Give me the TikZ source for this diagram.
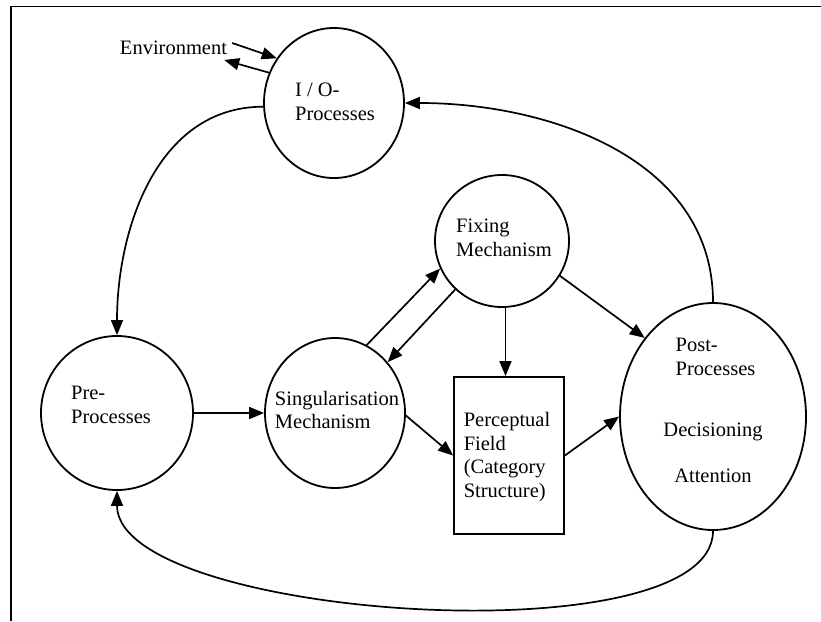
\documentclass[tikz,border=0pt]{standalone}
\usepackage{fontspec}
\setmainfont{Liberation Serif}
\usetikzlibrary{arrows.meta,shapes.geometric}

\begin{document}
\begin{tikzpicture}[x=1pt,y=-1pt,
    proc/.style={draw,ellipse,line width=1.8pt,inner sep=0pt},
    lbl/.style={font=\fontsize{20.5}{23.5}\selectfont,align=left,inner sep=1pt},
    flow/.style={-{Triangle[length=15pt,width=12pt]},line width=1.7pt}]
  \useasboundingbox (0,0) rectangle (821,621);
  \draw[line width=1.8pt] (821,6.5) -- (11,6.5) -- (11,621);
  % processes
  \node[proc,minimum width=140pt,minimum height=150pt] (io) at (334,103) {};
  \node[proc,minimum width=152pt,minimum height=154pt] (pre) at (117,413) {};
  \node[proc,minimum width=140pt,minimum height=150pt] (sing) at (335,413) {};
  \node[proc,minimum width=134pt,minimum height=132pt] (fix) at (502,241) {};
  \node[draw,rectangle,line width=1.8pt,minimum width=110pt,minimum height=157pt] (perc) at (509,455.5) {};
  \node[proc,minimum width=186pt,minimum height=227pt] (post) at (713,416.5) {};
  % texts
  \node[lbl] (env) at (173.5,48) {Environment};
  \node[lbl] (iotxt) at (335,102) {I / O-\\Processes};
  \node[lbl] (pretxt) at (111,405) {Pre-\\Processes};
  \node[lbl] (singtxt) at (337,410) {Singularisation\\Mechanism};
  \node[lbl] (fixtxt) at (504,238) {Fixing\\Mechanism};
  \node[lbl] (perctxt) at (507,457) {Perceptual\\Field\\(Category\\Structure)};
  \node[lbl] (posttxt) at (715.5,357) {Post-\\Processes};
  \node[lbl] (dectxt) at (713,432) {Decisioning};
  \node[lbl] (atttxt) at (713,476) {Attention};
  % connectors
  \draw[flow] ([xshift=4pt,yshift=5pt]env.east) -- (io.142);
  \draw[flow] (io.155) -- ([xshift=-4pt,yshift=-12pt]env.east);
  \draw[flow] (io.183) to[out=180,in=90] (pre.north);
  \draw[flow] (post.north) to[out=90,in=0] (io.east);
  \draw[flow] (post.south) to[out=-90,in=-90,looseness=0.55] (pre.south);
  \draw[flow] (pre.east) -- (sing.west);
  \draw[flow] (sing.65) -- (fix.204);
  \draw[flow] (fix.226) -- (sing.44);
  \draw[flow] (fix.-87) -- (fix.-87 |- perc.north);
  \draw[flow] (fix.-31) -- (post.131);
  \draw[flow] (sing.-2) -- (perc.west);
  \draw[flow] (perc.east) -- (post.west);
\end{tikzpicture}
\end{document}
